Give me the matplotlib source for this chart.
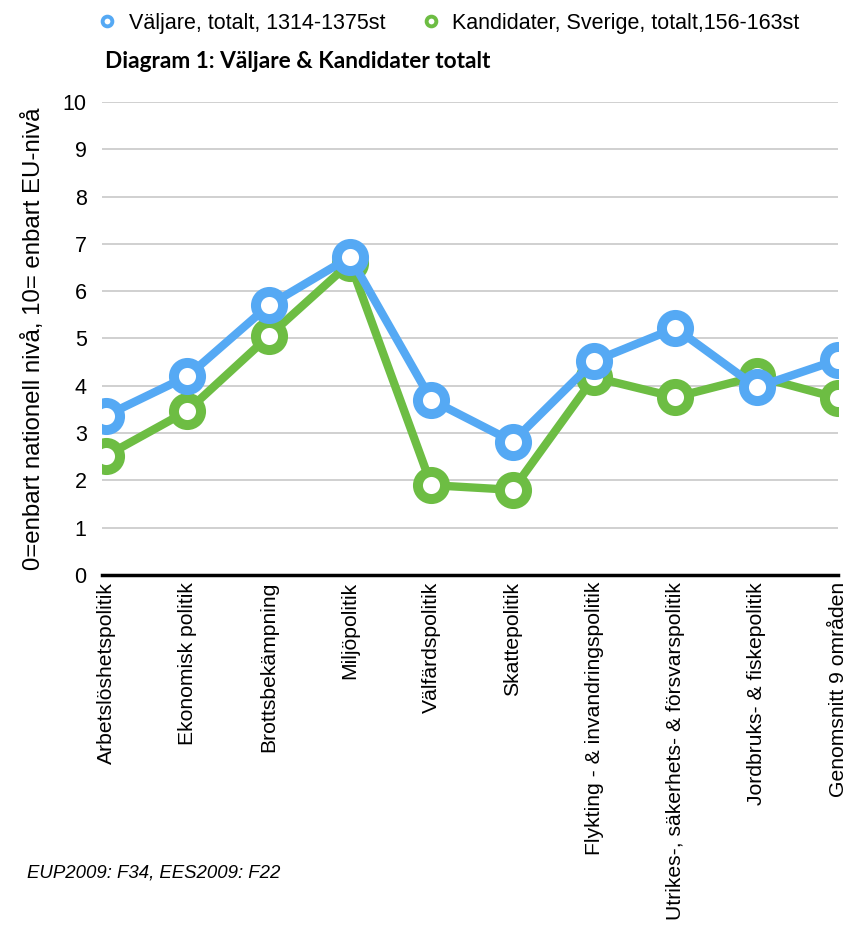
import numpy as np
import matplotlib
matplotlib.use("Agg")
import matplotlib.pyplot as plt
from matplotlib.lines import Line2D

plt.rcParams["font.family"] = ["Liberation Sans", "DejaVu Sans"]

categories = ["Arbetslöshetspolitik", "Ekonomisk politik", "Brottsbekämpning", "Miljöpolitik",
              "Välfärdspolitik", "Skattepolitik", "Flykting - & invandringspolitik",
              "Utrikes-, säkerhets- & försvarspolitik", "Jordbruks- & fiskepolitik",
              "Genomsnitt 9 områden"]
valjare = [3.37, 4.20, 5.70, 6.72, 3.70, 2.82, 4.52, 5.22, 3.97, 4.55]
kandidater = [2.52, 3.47, 5.05, 6.60, 1.90, 1.80, 4.18, 3.76, 4.20, 3.74]
label_v = "Väljare, totalt, 1314-1375st"
label_k = "Kandidater, Sverige, totalt,156-163st"
BLUE = "#55A9F4"; GREEN = "#6DBD43"

fig = plt.figure(figsize=(8.52, 9.27), dpi=100)
ax = fig.add_axes([102/852, 1-575/927, (838-102)/852, (575-102)/927])
x = np.arange(len(categories))

ax.plot(x, kandidater, color=GREEN, lw=6, marker="o", ms=19.5, mfc="white", mec=GREEN, mew=7.2,
        zorder=3, label=label_k, solid_joinstyle="round")
ax.plot(x, valjare, color=BLUE, lw=6, marker="o", ms=19.5, mfc="white", mec=BLUE, mew=7.2,
        zorder=4, label=label_v, solid_joinstyle="round")

ax.set_xlim(-0.05, 9.0)
ax.set_ylim(0, 10)
ax.set_yticks(range(0, 11))
ax.yaxis.grid(True, color="#c8c8c8", lw=1.2)
ax.set_axisbelow(True)
for s in ["top", "right", "left"]:
    ax.spines[s].set_visible(False)
ax.spines["bottom"].set_color("black")
ax.spines["bottom"].set_linewidth(2.5)
ax.spines["bottom"].set_zorder(5)
ax.set_xticks(x)
ax.set_xticklabels(categories, rotation=90, fontsize=15.2, va="top", ha="center")
ax.tick_params(axis="x", length=0, pad=5)
ax.tick_params(axis="y", length=0, labelsize=15.5, pad=11)
ax.set_ylabel("0=enbart nationell nivå, 10= enbart EU-nivå", fontsize=17.3)
ax.yaxis.set_label_coords(-57/736, 0.5)

# legend above the chart
h = [Line2D([], [], ls="", marker="o", ms=7, mfc="white", mec=BLUE, mew=2.8),
     Line2D([], [], ls="", marker="o", ms=7, mfc="white", mec=GREEN, mew=2.8)]
fig.legend(h, [label_v, label_k], loc="center", bbox_to_anchor=(448/852, 1-23/927), ncol=2,
           frameon=False, fontsize=15.5, handletextpad=0.5, columnspacing=1.6, handlelength=1)

fig.text(105/852, 1-62/927, "Diagram 1: Väljare & Kandidater totalt", fontsize=16.3,
         fontweight="bold", family=["Lato", "DejaVu Sans"], va="center", ha="left")
fig.text(27/852, 1-873/927, "EUP2009: F34, EES2009: F22", fontsize=13.4, style="italic",
         va="center", ha="left")

fig.savefig("out.png", dpi=100)
